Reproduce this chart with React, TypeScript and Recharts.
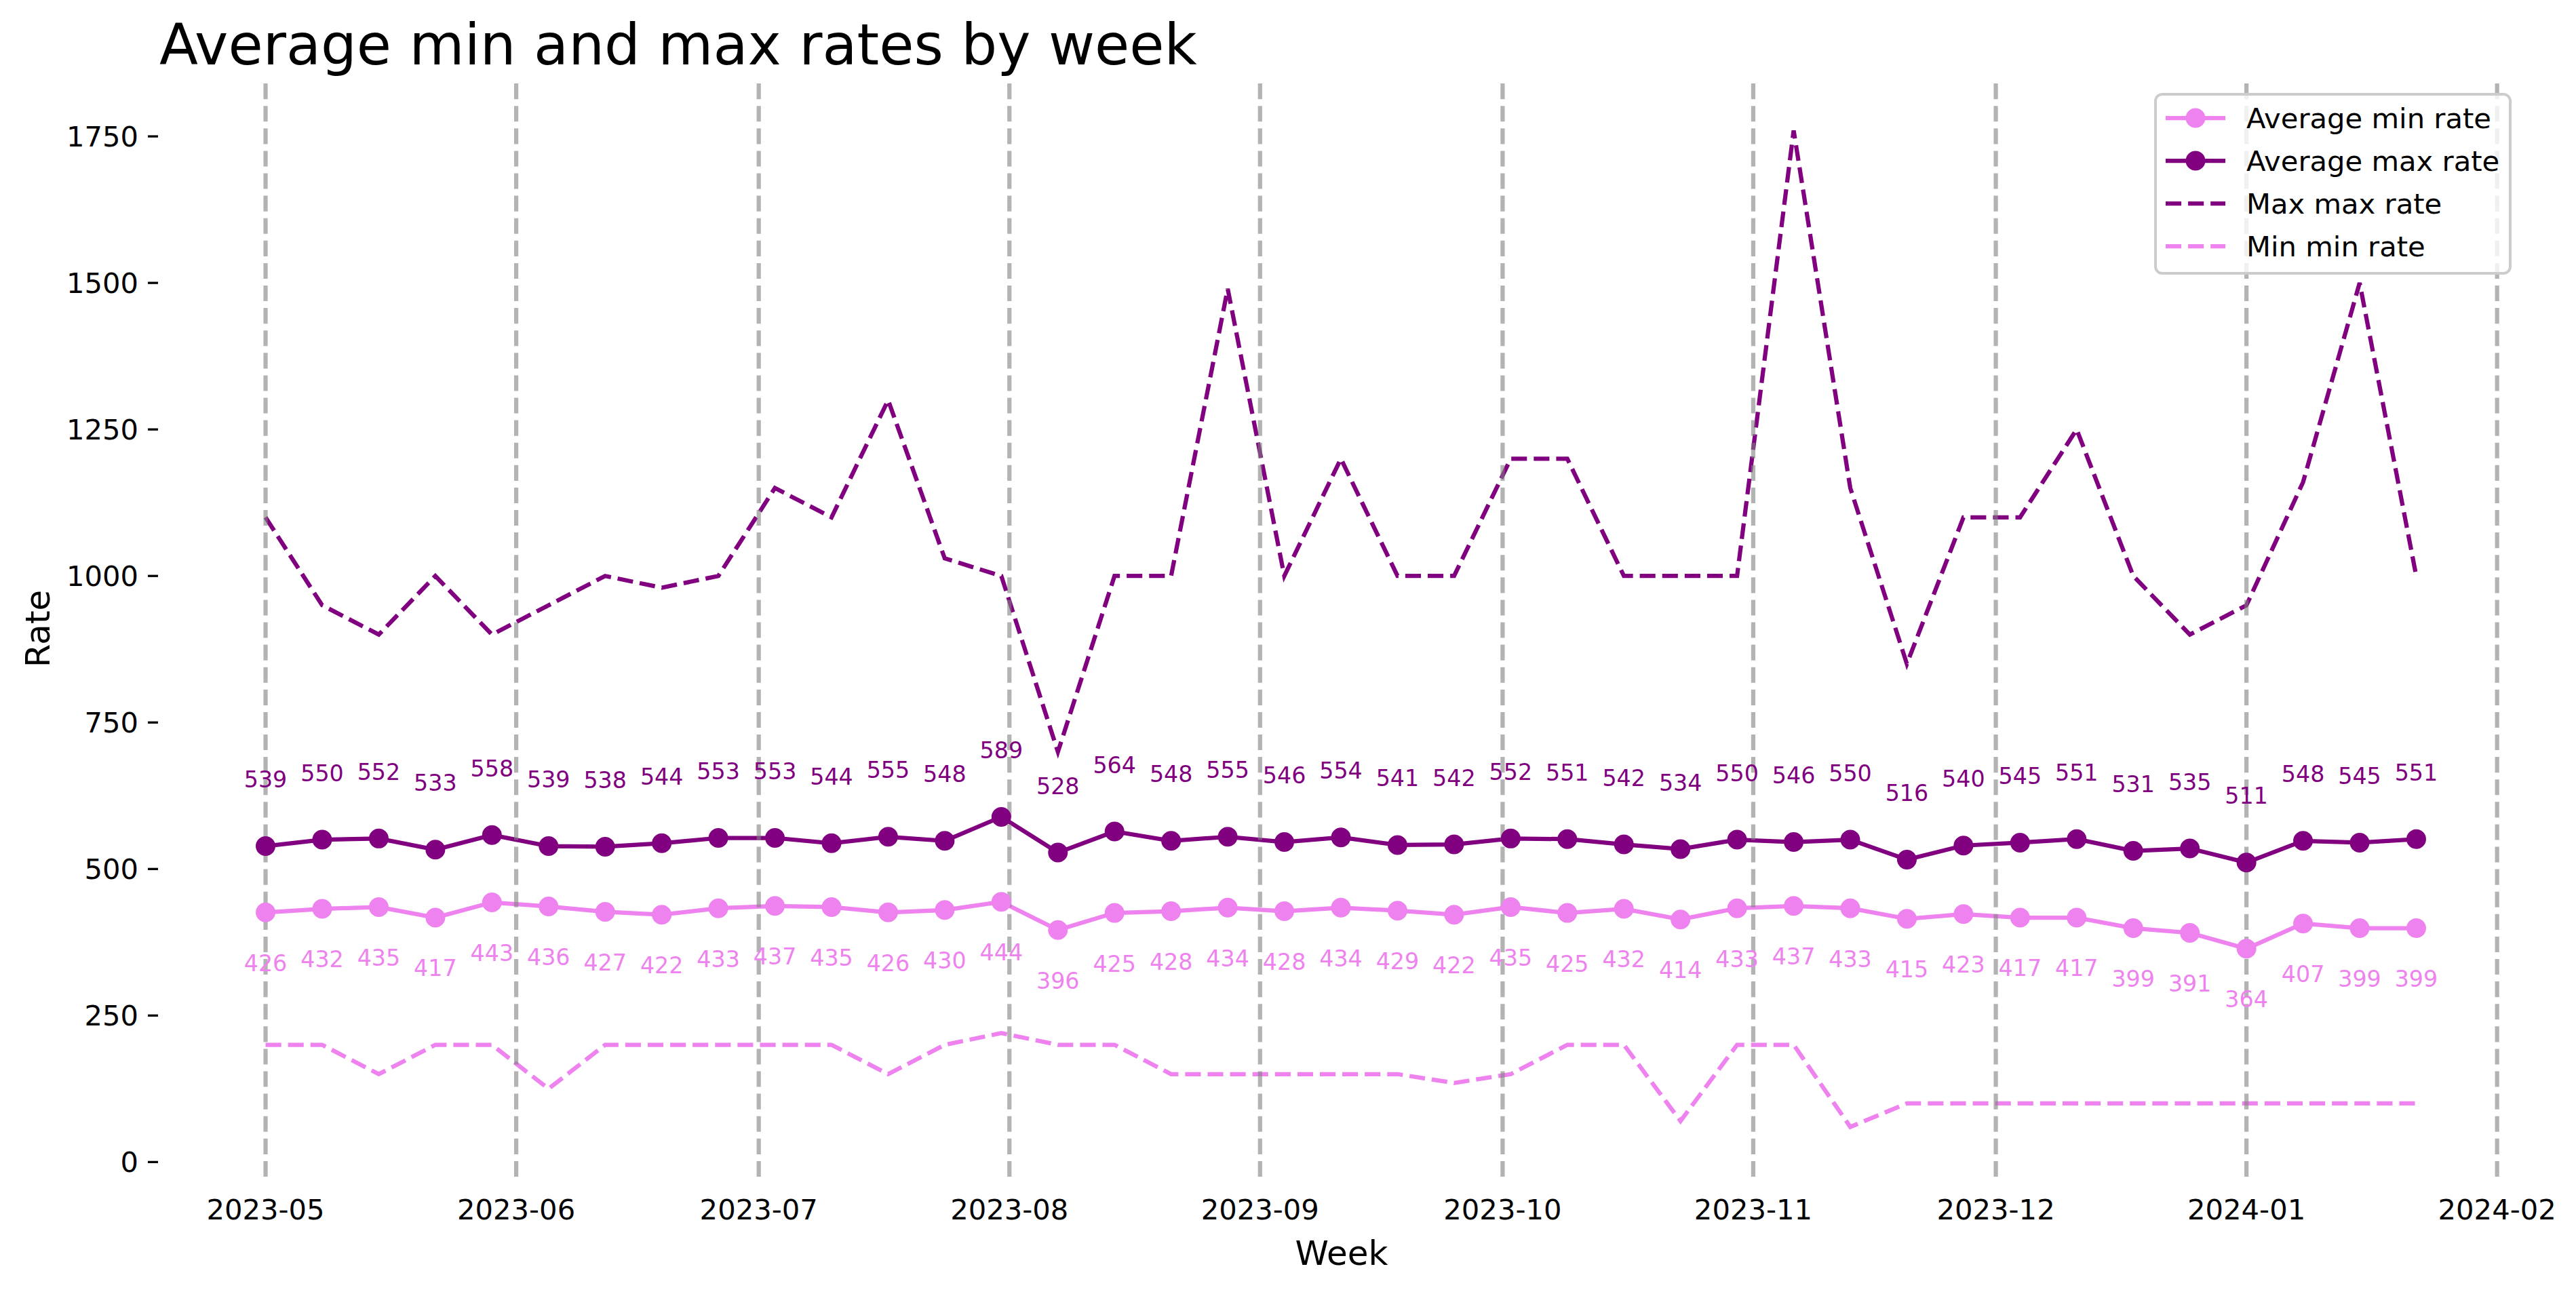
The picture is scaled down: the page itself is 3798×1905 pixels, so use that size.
import React from 'react';
import { LineChart, Line, XAxis, YAxis, ReferenceLine, LabelList } from 'recharts';

// weekly buckets (Monday of each week)
const weeks = [
  '2023-05-01', '2023-05-08', '2023-05-15', '2023-05-22', '2023-05-29',
  '2023-06-05', '2023-06-12', '2023-06-19', '2023-06-26',
  '2023-07-03', '2023-07-10', '2023-07-17', '2023-07-24', '2023-07-31',
  '2023-08-07', '2023-08-14', '2023-08-21', '2023-08-28',
  '2023-09-04', '2023-09-11', '2023-09-18', '2023-09-25',
  '2023-10-02', '2023-10-09', '2023-10-16', '2023-10-23', '2023-10-30',
  '2023-11-06', '2023-11-13', '2023-11-20', '2023-11-27',
  '2023-12-04', '2023-12-11', '2023-12-18', '2023-12-25',
  '2024-01-01', '2024-01-08', '2024-01-15', '2024-01-22',
];

const avgMinRate = [
  426, 432, 435, 417, 443, 436, 427, 422, 433, 437, 435, 426, 430, 444, 396, 425, 428, 434, 428, 434,
  429, 422, 435, 425, 432, 414, 433, 437, 433, 415, 423, 417, 417, 399, 391, 364, 407, 399, 399,
];

const avgMaxRate = [
  539, 550, 552, 533, 558, 539, 538, 544, 553, 553, 544, 555, 548, 589, 528, 564, 548, 555, 546, 554,
  541, 542, 552, 551, 542, 534, 550, 546, 550, 516, 540, 545, 551, 531, 535, 511, 548, 545, 551,
];

const maxMaxRate = [
  1100, 950, 900, 1000, 900, 950, 1000, 980, 1000, 1150, 1100, 1300, 1030, 1000, 700, 1000, 1000, 1490, 1000, 1200,
  1000, 1000, 1200, 1200, 1000, 1000, 1000, 1760, 1150, 850, 1100, 1100, 1250, 1000, 900, 950, 1160, 1500, 1000,
];

const minMinRate = [
  200, 200, 150, 200, 200, 125, 200, 200, 200, 200, 200, 150, 200, 220, 200, 200, 150, 150, 150, 150,
  150, 135, 150, 200, 200, 70, 200, 200, 60, 100, 100, 100, 100, 100, 100, 100, 100, 100, 100,
];

const monthTicks = [
  '2023-05-01', '2023-06-01', '2023-07-01', '2023-08-01', '2023-09-01',
  '2023-10-01', '2023-11-01', '2023-12-01', '2024-01-01', '2024-02-01',
];

const yTicks = [0, 250, 500, 750, 1000, 1250, 1500, 1750];

const VIOLET = '#ee82ee';
const PURPLE = '#800080';
const FONT = '"DejaVu Sans", Verdana, sans-serif';

const W = 3798;
const H = 1905;
const MARGIN = { top: 119, right: 77, bottom: 110, left: 0 };
const X_AXIS_H = 60;
const Y_AXIS_W = 233;
const Y_DOMAIN: [number, number] = [-25, 1845];
const PLOT_H = H - MARGIN.top - MARGIN.bottom - X_AXIS_H;
// annotations sit 100 rate units above / below each point
const LABEL_SHIFT = (100 * PLOT_H) / (Y_DOMAIN[1] - Y_DOMAIN[0]);

const LW = 6.25;
const DASH = '23.1 10';

const toTime = (d: string) => Date.parse(d + 'T00:00:00Z');

const chartData = weeks.map((w, i) => ({
  t: toTime(w),
  avgMin: avgMinRate[i],
  avgMax: avgMaxRate[i],
  maxMax: maxMaxRate[i],
  minMin: minMinRate[i],
}));

const firstT = toTime(weeks[0]);
const lastT = toTime(weeks[weeks.length - 1]);
const xPad = (lastT - firstT) * 0.05;
const X_DOMAIN: [number, number] = [firstT - xPad, lastT + xPad];

const fmtMonth = (t: number) => {
  const d = new Date(t);
  return `${d.getUTCFullYear()}-${String(d.getUTCMonth() + 1).padStart(2, '0')}`;
};

const valueLabel = (color: string, dy: number) => (props: any) => {
  const { x, y, value } = props;
  if (x == null || y == null) return null;
  return (
    <text x={x} y={y + dy} textAnchor="middle" fill={color} fontSize={33.3} fontFamily={FONT}>
      {value}
    </text>
  );
};

const legendItems = [
  { name: 'Average min rate', color: VIOLET, dashed: false },
  { name: 'Average max rate', color: PURPLE, dashed: false },
  { name: 'Max max rate', color: PURPLE, dashed: true },
  { name: 'Min min rate', color: VIOLET, dashed: true },
];

const LegendBox = () => (
  <svg
    width={527}
    height={268}
    style={{ position: 'absolute', left: 3176, top: 137 }}
  >
    <rect x={2} y={2} width={523} height={264} rx={10} fill="#fff" fillOpacity={0.8} stroke="#cccccc" strokeWidth={4} />
    {legendItems.map((item, i) => {
      const cy = 37 + i * 63;
      return (
        <g key={item.name}>
          <line
            x1={17}
            x2={105}
            y1={cy}
            y2={cy}
            stroke={item.color}
            strokeWidth={LW}
            strokeDasharray={item.dashed ? DASH : undefined}
          />
          {!item.dashed && <circle cx={61} cy={cy} r={12.5} fill={item.color} stroke={item.color} strokeWidth={4} />}
          <text x={136} y={cy + 15.2} fontSize={41.7} fontFamily={FONT} fill="#000">
            {item.name}
          </text>
        </g>
      );
    })}
  </svg>
);

export default function App() {
  return (
    <div style={{ position: 'absolute', left: 0, top: 0, width: W, height: H, background: '#fff' }}>
      <LineChart width={W} height={H} data={chartData} margin={MARGIN}>
        <XAxis
          dataKey="t"
          type="number"
          domain={X_DOMAIN}
          ticks={monthTicks.map(toTime)}
          tickFormatter={fmtMonth}
          interval={0}
          height={X_AXIS_H}
          axisLine={false}
          tickLine={false}
          tickSize={0}
          tickMargin={33}
          tick={{ fill: '#000', fontSize: 41.7, fontFamily: FONT }}
          allowDataOverflow
        />
        <YAxis
          type="number"
          domain={Y_DOMAIN}
          ticks={yTicks}
          interval={0}
          width={Y_AXIS_W}
          axisLine={false}
          tickSize={15}
          tickMargin={14}
          tickLine={{ stroke: '#000', strokeWidth: 3.3 }}
          tick={{ fill: '#000', fontSize: 41.7, fontFamily: FONT }}
          allowDataOverflow
        />

        <Line
          dataKey="avgMin"
          name="Average min rate"
          stroke={VIOLET}
          strokeWidth={LW}
          dot={{ r: 12.5, fill: VIOLET, stroke: VIOLET, strokeWidth: 4 }}
          activeDot={false}
          isAnimationActive={false}
        >
          <LabelList dataKey="avgMin" content={valueLabel(VIOLET, LABEL_SHIFT)} />
        </Line>
        <Line
          dataKey="avgMax"
          name="Average max rate"
          stroke={PURPLE}
          strokeWidth={LW}
          dot={{ r: 12.5, fill: PURPLE, stroke: PURPLE, strokeWidth: 4 }}
          activeDot={false}
          isAnimationActive={false}
        >
          <LabelList dataKey="avgMax" content={valueLabel(PURPLE, -LABEL_SHIFT)} />
        </Line>
        <Line
          dataKey="maxMax"
          name="Max max rate"
          stroke={PURPLE}
          strokeWidth={LW}
          strokeDasharray={DASH}
          dot={false}
          activeDot={false}
          isAnimationActive={false}
        />
        <Line
          dataKey="minMin"
          name="Min min rate"
          stroke={VIOLET}
          strokeWidth={LW}
          strokeDasharray={DASH}
          dot={false}
          activeDot={false}
          isAnimationActive={false}
        />

        {monthTicks.map((m) => (
          <ReferenceLine
            key={m}
            x={toTime(m)}
            stroke="#808080"
            strokeOpacity={0.6}
            strokeWidth={LW}
            strokeDasharray={DASH}
          />
        ))}
      </LineChart>

      <div
        style={{
          position: 'absolute',
          left: 235,
          top: 25,
          fontFamily: FONT,
          fontSize: 83.3,
          lineHeight: 1,
          whiteSpace: 'nowrap',
          color: '#000',
        }}
      >
        Average min and max rates by week
      </div>
      <div
        style={{
          position: 'absolute',
          left: 1978,
          top: 1823,
          transform: 'translateX(-50%)',
          fontFamily: FONT,
          fontSize: 50,
          lineHeight: 1,
          whiteSpace: 'nowrap',
          color: '#000',
        }}
      >
        Week
      </div>
      <div
        style={{
          position: 'absolute',
          left: 56,
          top: 927,
          transform: 'translate(-50%, -50%) rotate(-90deg)',
          fontFamily: FONT,
          fontSize: 50,
          lineHeight: 1,
          whiteSpace: 'nowrap',
          color: '#000',
        }}
      >
        Rate
      </div>
      <LegendBox />
    </div>
  );
}
